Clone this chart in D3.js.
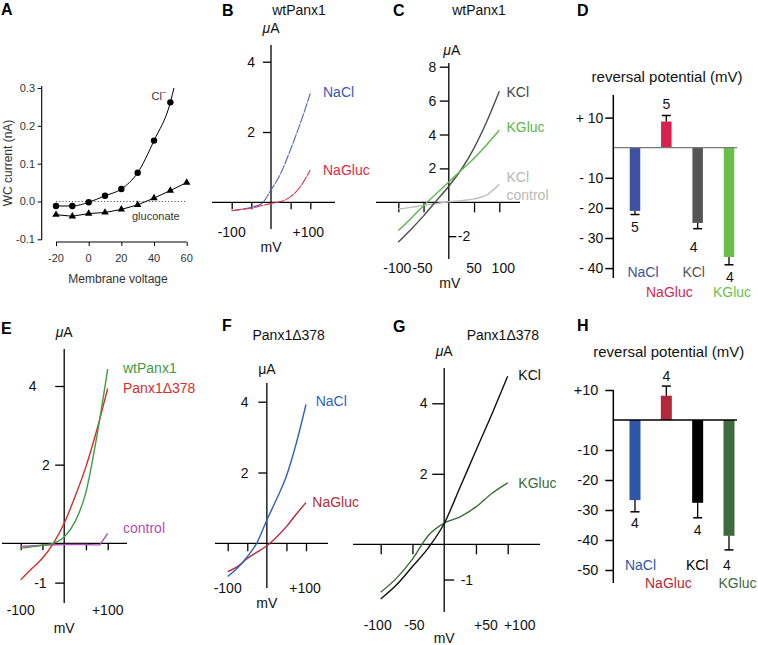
<!DOCTYPE html>
<html><head><meta charset="utf-8">
<script src="https://cdn.jsdelivr.net/npm/d3@7"></script>
<style>body{margin:0;background:#fff}svg{display:block;font-family:"Liberation Sans",Arial,Helvetica,sans-serif}</style>
</head><body><svg id="chart" width="758" height="645"></svg>
<script>
// ---------------- DATA ----------------
// Panel A (whole-cell current, nA)
const aVoltCl = [-20,-10,0,10,20,30,40,50];
const aCl = [-0.012,-0.012,-0.002,0.015,0.033,0.076,0.161,0.262];
const aClFitEnd = [52.2, 0.30];
const aVoltGluc = [-20,-10,0,10,20,30,40,50,60];
const aGluc = [-0.035,-0.039,-0.032,-0.029,-0.021,-0.009,0.009,0.029,0.050];
const aXTicks = [-20,0,20,40,60];
const aXTickLabels = ["-20","0","20","40","60"];
const aYTicks = [-0.1,0,0.1,0.2,0.3];
const aYTickLabels = ["-0.1","0.0","0.1","0.2","0.3"];

// I-V curves (mV -> µA)
const ivVolt = [-100,-75,-50,-25,0,25,50,75,100];
const bNaCl   = [-0.24,-0.2,-0.14,-0.05,0.35,0.83,1.51,2.26,3.1];
const bNaGluc = [-0.24,-0.2,-0.17,-0.1,-0.03,0.02,0.16,0.45,0.92];
const cKCl    = [-2.35,-1.6,-0.8,0.08,0.95,1.95,3.2,4.75,6.55];
const cKGluc  = [-1.67,-0.95,-0.2,0.5,1.2,1.9,2.6,3.4,4.25];
const cKClCtrl= [-0.4,-0.3,-0.18,-0.07,0.03,0.1,0.2,0.43,1.06];
const eWt     = [-0.13,-0.09,-0.05,0.0,0.16,0.55,1.3,2.72,4.43];
const ePanx   = [-0.93,-0.65,-0.38,0.0,0.51,1.19,1.95,2.88,3.94];
const eCtrlVolt = [-100,-50,0,50,70,82,100];
const eCtrl     = [-0.08,-0.05,-0.03,-0.03,-0.04,-0.04,0.25];
const fNaCl   = [-0.94,-0.7,-0.38,0.02,0.66,1.25,1.9,2.82,3.92];
const fNaGluc = [-0.8,-0.66,-0.43,-0.25,-0.07,0.18,0.47,0.82,1.15];
const gKCl    = [-1.55,-1.15,-0.63,-0.1,0.59,1.62,2.66,3.69,4.77];
const gKGluc  = [-1.36,-0.96,-0.42,0.25,0.6,0.78,1.06,1.44,1.74];
const ivXTicks = [-100,-50,50,100];
const bXTickLabels = [["-100",-100],["+100",100]];
const cXTickLabels = [["-100",-100],["-50",-50],["50",50],["100",100]];
const eXTickLabels = [["-100",-100],["+100",100]];
const fXTickLabels = [["-100",-100],["+100",100]];
const gXTickLabels = [["-100",-100],["-50",-50],["+50",50],["+100",100]];
const bYTicks = [2,4], cYTicks = [2,4,6,8], cYTicksR = [-2];
const eYTicks = [-1,2,4], fYTicks = [2,4], gYTicks = [2,4], gYTicksR = [-1];

// Reversal potential bars (mV)
const barCats = ["NaCl","NaGluc","KCl","KGluc"];
const dMean = [-21.0, 8.7, -25.0, -36.3];
const dErr  = [1.2, 2.0, 1.9, 2.6];
const dN    = [5,5,4,4];
const dYTicks = [10,-10,-20,-30,-40];
const dYTickLabels = ["+ 10","- 10","- 20","- 30","- 40"];
const hMean = [-26.7, 8.1, -27.6, -38.6];
const hErr  = [3.9, 3.2, 5.0, 4.7];
const hN    = [4,4,4,4];
const hYTicks = [10,-10,-20,-30,-40,-50];
const hYTickLabels = ["+10","-10","-20","-30","-40","-50"];

// ---------------- DRAW ----------------
const svg = d3.select("#chart");
function txt(g, x, y, s, o = {}) {
  const t = g.append("text").attr("x", x).attr("y", y).text(s)
    .attr("font-size", o.size || 14).attr("fill", o.fill || "#111")
    .attr("text-anchor", o.anchor || "start");
  if (o.weight) t.attr("font-weight", o.weight);
  if (o.dy) t.attr("dy", o.dy);
  return t;
}
function muA(g, x, y, italic, anchor) {
  const t = g.append("text").attr("x", x).attr("y", y).attr("font-size", 14)
    .attr("fill", "#111").attr("text-anchor", anchor || "middle");
  t.append("tspan").attr("font-style", italic ? "italic" : "normal").text("\u03bc");
  t.append("tspan").text("A");
}

// Panel letters
[["A",1,15],["B",222,16],["C",393,16],["D",577,16],["E",1,334],["F",222,331],["G",393,332],["H",577,331]]
  .forEach(([s,x,y]) => txt(svg, x, y, s, {size: 16, weight: "bold", fill: "#000"}));

// ---- Panel A ----
(function(){
  const g = svg.append("g");
  const x = d3.scaleLinear().domain([-20,60]).range([56,186.7]);
  const y = d3.scaleLinear().domain([-0.1,0.3]).range([239.3,88]);
  const gray = "#333";
  g.append("line").attr("x1",41.7).attr("x2",41.7).attr("y1",86).attr("y2",240).attr("stroke","#000").attr("stroke-width",1.1);
  g.append("line").attr("x1",x(-20)).attr("x2",x(60)).attr("y1",242).attr("y2",242).attr("stroke","#000").attr("stroke-width",1.1);
  const ya = g.append("g").attr("transform","translate(41.7,0)").call(d3.axisLeft(y).tickValues(aYTicks).tickSize(4).tickFormat(""));
  ya.select(".domain").remove(); ya.selectAll("line").attr("stroke","#000");
  const xa = g.append("g").attr("transform","translate(0,242)").call(d3.axisBottom(x).tickValues(aXTicks).tickSize(4).tickFormat(""));
  xa.select(".domain").remove(); xa.selectAll("line").attr("stroke","#000");
  aYTicks.forEach((v,i)=>txt(g,35,y(v),aYTickLabels[i],{size:11,fill:gray,anchor:"end",dy:"0.36em"}));
  aXTicks.forEach((v,i)=>txt(g,x(v),262,aXTickLabels[i],{size:11,fill:gray,anchor:"middle"}));
  txt(g,118,283,"Membrane voltage",{size:12,fill:gray,anchor:"middle"});
  g.append("text").attr("transform","translate(12,163) rotate(-90)").attr("text-anchor","middle")
    .attr("font-size",12).attr("fill",gray).text("WC current (nA)");
  // dotted zero
  g.append("line").attr("x1",x(-20)).attr("x2",x(60)).attr("y1",y(0)).attr("y2",y(0))
    .attr("stroke","#444").attr("stroke-width",0.9).attr("stroke-dasharray","1.2,2");
  const line = d3.line().x(d=>x(d[0])).y(d=>y(d[1])).curve(d3.curveMonotoneX);
  const clPts = aVoltCl.map((v,i)=>[v,aCl[i]]);
  g.append("path").datum(clPts.concat([aClFitEnd])).attr("d",line).attr("fill","none").attr("stroke","#000").attr("stroke-width",1);
  const glPts = aVoltGluc.map((v,i)=>[v,aGluc[i]]);
  g.append("path").datum(glPts).attr("d",d3.line().x(d=>x(d[0])).y(d=>y(d[1]))).attr("fill","none").attr("stroke","#000").attr("stroke-width",1);
  g.selectAll("circle.cl").data(clPts).join("circle").attr("cx",d=>x(d[0])).attr("cy",d=>y(d[1])).attr("r",3.2).attr("fill","#000");
  g.selectAll("path.tri").data(glPts).join("path").attr("class","tri")
    .attr("transform",d=>`translate(${x(d[0])},${y(d[1])})`).attr("d",d3.symbol(d3.symbolTriangle).size(24)).attr("fill","#000");
  const cl = txt(g,151.5,100,"Cl",{size:11,fill:gray});
  cl.append("tspan").attr("font-size",8).attr("dy",-5).text("\u2212");
  txt(g,132,220,"gluconate",{size:11,fill:gray});
})();

// ---- Generic I-V panel ----
function iv(o) {
  const g = svg.append("g");
  const x = d3.scaleLinear().domain([-100,100]).range(o.xr);
  const y = d3.scaleLinear().domain([0,4]).range(o.yr);
  const x0 = x(0), y0 = y(0), ac = o.axisColor || "#000";
  g.append("line").attr("x1",o.xExt[0]).attr("x2",o.xExt[1]).attr("y1",y0).attr("y2",y0).attr("stroke",ac).attr("stroke-width",1.3);
  g.append("line").attr("x1",x0).attr("x2",x0).attr("y1",o.yExt[0]).attr("y2",o.yExt[1]).attr("stroke",ac).attr("stroke-width",1.3);
  const xa = g.append("g").attr("transform",`translate(0,${y0})`).call(d3.axisBottom(x).tickValues(ivXTicks).tickSize(o.xTickLen).tickFormat(""));
  xa.select(".domain").remove(); xa.selectAll("line").attr("stroke",ac).attr("stroke-width",1.3);
  const ya = g.append("g").attr("transform",`translate(${x0},0)`).call(d3.axisLeft(y).tickValues(o.yTicks).tickSize(o.yTickLen).tickFormat(""));
  ya.select(".domain").remove(); ya.selectAll("line").attr("stroke",ac).attr("stroke-width",1.3);
  o.yTicks.forEach((v,i)=>txt(g,x0-(o.yLabOff[i]!==undefined?o.yLabOff[i]:o.yLabOff[0]),y(v),String(v),{anchor:"end",dy:"0.36em"}));
  if (o.yTicksR) {
    const yr = g.append("g").attr("transform",`translate(${x0},0)`).call(d3.axisRight(y).tickValues(o.yTicksR).tickSize(o.yTickLenR).tickFormat(""));
    yr.select(".domain").remove(); yr.selectAll("line").attr("stroke",ac).attr("stroke-width",1.3);
    o.yTicksR.forEach(v=>txt(g,x0+o.yLabOffR,y(v),String(v),{dy:"0.36em"}));
  }
  o.xLabs.forEach(([s,v],i)=>txt(g,x(v)+(o.xLabDx?o.xLabDx[i]:0),o.xLabY,s,{anchor:"middle"}));
  txt(g,x0+(o.mvDx||0),o.mvY,"mV",{anchor:"middle"});
  muA(g,x0+(o.muDx||0),o.muY,o.muItalic);
  if (o.title) txt(g,o.title[1],o.title[2],o.title[0],{anchor:o.title[3]||"middle"});
  o.series.forEach(s=>{
    const pts = s.v.map((v,i)=>[v,s.i[i]]);
    const p = g.append("path").datum(pts)
      .attr("d",d3.line().x(d=>x(d[0])).y(d=>y(d[1])).curve(s.curve||d3.curveMonotoneX))
      .attr("fill","none").attr("stroke",s.color).attr("stroke-width",s.w||1.4);
    if (s.dash) p.attr("stroke-dasharray",s.dash);
  });
  o.labels.forEach(([s,lx,ly,c])=>txt(g,lx,ly,s,{fill:c}));
}

// Panel B
iv({xr:[231.7,310.3], yr:[202.3,61.7], xExt:[212,335], yExt:[45,229], xTickLen:7, yTickLen:8,
  yTicks:bYTicks, yLabOff:[16], xLabs:bXTickLabels, xLabDx:[0,-2], xLabY:237, mvY:252, muY:33, muItalic:true,
  title:["wtPanx1",299,15],
  series:[{v:ivVolt,i:bNaCl,color:"#4a62c0",w:1.1,dash:"10,1"},{v:ivVolt,i:bNaGluc,color:"#e0304a",w:1.1,dash:"10,1"}],
  labels:[["NaCl",323,97,"#3b58b8"],["NaGluc",323,175,"#e02a48"]]});

// Panel C (8 µA scale)
iv({xr:[398.3,499.3], yr:[202.3,134.5], xExt:[376,520], yExt:[63,259], xTickLen:10, yTickLen:9,
  yTicks:cYTicks.map(v=>v), yLabOff:[12.6], xLabs:cXTickLabels, xLabDx:[-1,-1,0,4], xLabY:273, mvY:288, mvDx:1,
  muY:55, muDx:3, muItalic:true, yTicksR:cYTicksR, yTickLenR:7.5, yLabOffR:9,
  title:["wtPanx1",479,15],
  series:[{v:ivVolt,i:cKClCtrl,color:"#bdbdbd"},{v:ivVolt,i:cKCl,color:"#4d4d4d"},{v:ivVolt,i:cKGluc,color:"#5cb84a"}],
  labels:[["KCl",506.5,97,"#444"],["KGluc",506.5,132,"#5cb84a"],["KCl",506.5,182,"#b8b8b8"],["control",506.5,200,"#b8b8b8"]]});

// Panel E
iv({xr:[20.7,107.7], yr:[543.3,386], xExt:[2,127], yExt:[349,603], xTickLen:7, yTickLen:9,
  yTicks:eYTicks, yLabOff:[17.6,14.3,27.6], xLabs:eXTickLabels, xLabY:615, mvY:633, muY:337, muItalic:true,
  series:[{v:eCtrlVolt,i:eCtrl,color:"#b050b8",curve:d3.curveLinear},{v:ivVolt,i:ePanx,color:"#d82c2c"},{v:ivVolt,i:eWt,color:"#3f9c3f"}],
  labels:[["wtPanx1",123,373,"#3f9c3f"],["Panx1\u0394378",123,393,"#d82c2c"],["control",123,533,"#b050b8"]]});

// Panel F
iv({xr:[227.7,306], yr:[543.3,401.7], xExt:[215,328], yExt:[383,588], xTickLen:8, yTickLen:8.5,
  yTicks:fYTicks, yLabOff:[18.4], xLabs:fXTickLabels, xLabDx:[0,-1], xLabY:593, mvY:608, muY:374, muItalic:false,
  title:["Panx1\u0394378",288.7,340],
  series:[{v:ivVolt,i:fNaGluc,color:"#b72b3b"},{v:ivVolt,i:fNaCl,color:"#2f5fc4"}],
  labels:[["NaCl",315.7,406,"#2f5fc4"],["NaGluc",312.3,507,"#b72b3b"]]});

// Panel G
iv({xr:[380.7,507.7], yr:[544.3,403.3], xExt:[353,540], yExt:[368,612], xTickLen:10, yTickLen:12,
  yTicks:gYTicks, yLabOff:[16.7], xLabs:gXTickLabels, xLabDx:[-3,2,10,12], xLabY:630, mvY:643, muY:356, muItalic:true,
  yTicksR:gYTicksR, yTickLenR:10, yLabOffR:16.5,
  title:["Panx1\u0394378",466.7,340,"start"],
  series:[{v:ivVolt,i:gKGluc,color:"#3c6b3a"},{v:ivVolt,i:gKCl,color:"#111"}],
  labels:[["KCl",518.3,380,"#111"],["KGluc",518.3,488,"#3c6b3a"]]});

// ---- Bar panels ----
function bars(o) {
  const g = svg.append("g");
  const x = d3.scalePoint().domain(barCats).range([635,729]);
  const y = d3.scaleLinear().domain([0,10]).range([o.y0,o.y0-o.pxPer10]);
  const bw = o.bw;
  g.selectAll("rect").data(barCats).join("rect")
    .attr("x",c=>x(c)-bw/2).attr("width",bw)
    .attr("y",(c,i)=>Math.min(y(0),y(o.mean[i])))
    .attr("height",(c,i)=>Math.abs(y(o.mean[i])-y(0)))
    .attr("fill",(c,i)=>o.colors[i]);
  barCats.forEach((c,i)=>{
    const m = o.mean[i], e = m<0 ? m-o.err[i] : m+o.err[i];
    g.append("line").attr("x1",x(c)).attr("x2",x(c)).attr("y1",y(m)).attr("y2",y(e)).attr("stroke","#000").attr("stroke-width",1.3);
    g.append("line").attr("x1",x(c)-4.5).attr("x2",x(c)+4.5).attr("y1",y(e)).attr("y2",y(e)).attr("stroke","#000").attr("stroke-width",1.5);
    const ny = m<0 ? y(e)+o.nOff[i] : y(e)-o.nOff[i];
    txt(g,x(c)+o.nDx[i],ny,String(o.n[i]),{anchor:"middle",fill:"#111"});
  });
  g.append("line").attr("x1",o.axX).attr("x2",737).attr("y1",y(0)).attr("y2",y(0)).attr("stroke",o.zeroColor).attr("stroke-width",o.zeroW);
  g.append("line").attr("x1",o.axX).attr("x2",o.axX).attr("y1",o.axTop).attr("y2",o.axBot).attr("stroke","#000").attr("stroke-width",1.5);
  const ya = g.append("g").attr("transform",`translate(${o.axX},0)`).call(d3.axisLeft(y).tickValues(o.ticks).tickSize(8).tickFormat(""));
  ya.select(".domain").remove(); ya.selectAll("line").attr("stroke","#000").attr("stroke-width",1.5);
  o.ticks.forEach((v,i)=>txt(g,o.axX-o.labOff,y(v),o.tickLabels[i],{anchor:"end",dy:"0.36em",size:o.tickSize}));
  txt(g,o.titleX,o.titleY,"reversal potential (mV)",{anchor:"middle",size:o.titleSize});
  barCats.forEach((c,i)=>txt(g,x(c)+o.catDx[i],o.catY[i],c,{anchor:"middle",fill:o.textColors[i],size:o.catSize}));
}

bars({y0:147.7, pxPer10:30.1, bw:10.5, mean:dMean, err:dErr, n:dN, nOff:[17,6,23,17], nDx:[0,0,-4,1],
  colors:["#3f51a3","#d81f4f","#555555","#6abf4b"], textColors:["#3f51a3","#d81f4f","#555","#6abf4b"],
  zeroColor:"#777", zeroW:1.3, axX:613.3, axTop:95, axBot:278, ticks:dYTicks, tickLabels:dYTickLabels, labOff:10, tickSize:14,
  titleX:667, titleY:82, titleSize:15, catDx:[8,3,-4,3], catY:[277,297,277,297], catSize:14});

bars({y0:420, pxPer10:30, bw:11, mean:hMean, err:hErr, n:hN, nOff:[16,5,17,20], nDx:[0,0,0,-2],
  colors:["#2f56a6","#b3273a","#000000","#3e6b3b"], textColors:["#2f56a6","#b3273a","#000","#3e6b3b"],
  zeroColor:"#000", zeroW:1.5, axX:613.3, axTop:390, axBot:583, ticks:hYTicks, tickLabels:hYTickLabels, labOff:15, tickSize:14.5,
  titleX:668.7, titleY:357, titleSize:15, catDx:[5.5,2,-0.5,8.5], catY:[570,588,570,588], catSize:14});
</script></body></html>
